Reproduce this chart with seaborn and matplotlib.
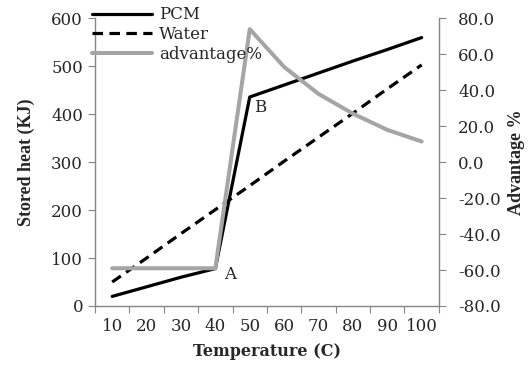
import matplotlib
matplotlib.use("Agg")
import matplotlib.pyplot as plt
import seaborn as sns
import pandas as pd

temps = [10, 20, 30, 40, 50, 60, 70, 80, 90, 100]
pcm = [20, 40, 60, 78, 436, 461, 486, 511, 535, 560]
water = [50, 100, 151, 201, 251, 302, 352, 402, 453, 503]
advantage = [-59, -59, -59, -59, 74, 53, 38, 27, 18, 11.5]

sns.set_style("white")
plt.rcParams['font.family'] = ['DejaVu Serif', 'Liberation Serif']

spine_grey = "#868686"
adv_grey = "#a5a5a5"
label_font = dict(family="Liberation Serif", fontweight="bold", fontsize=13)

df = pd.DataFrame({"pos": range(len(temps)), "PCM": pcm,
                   "Water": water, "advantage%": advantage})

fig = plt.figure(figsize=(5.29, 3.68), dpi=100)
ax = fig.add_axes([0.1796, 0.1685, 0.650, 0.7815])
ax2 = ax.twinx()

sns.lineplot(data=df, x="pos", y="PCM", ax=ax, color="black", lw=2.3, label="PCM", legend=False)
sns.lineplot(data=df, x="pos", y="Water", ax=ax, color="black", lw=2.3,
             linestyle=(0, (3.3, 2.0)), label="Water", legend=False)
sns.lineplot(data=df, x="pos", y="advantage%", ax=ax2, color=adv_grey, lw=2.9,
             label="advantage%", legend=False)

# category axis: ticks on boundaries, labels at centres
n = len(temps)
ax.set_xlim(-0.5, n - 0.5)
ax.set_xticks([i - 0.5 for i in range(n + 1)])
ax.set_xticklabels([])
ax.set_xticks(range(n), minor=True)
ax.set_xticklabels([str(t) for t in temps], minor=True, fontsize=12)
ax.tick_params(axis="x", which="major", direction="out", length=5, color=spine_grey, bottom=True)
ax.tick_params(axis="x", which="minor", length=0, pad=9)

ax.set_ylim(0, 600)
ax.set_yticks(range(0, 601, 100))
ax.tick_params(axis="y", direction="out", length=5, color=spine_grey, left=True, labelsize=12, pad=3.6)

ax2.set_ylim(-80, 80)
ax2.set_yticks(range(-80, 81, 20))
ax2.set_yticklabels([f"{v:.1f}" for v in range(-80, 81, 20)])
ax2.tick_params(axis="y", direction="out", length=5, color=spine_grey, right=True, labelsize=12, pad=9)

for s in ["top", "right"]:
    ax.spines[s].set_visible(False)
for s in ["top", "left", "bottom"]:
    ax2.spines[s].set_visible(False)
for a, names in [(ax, ["left", "bottom"]), (ax2, ["right"])]:
    for s in names:
        a.spines[s].set_color(spine_grey)
        a.spines[s].set_linewidth(1.0)

ax.set_xlabel("Temperature (C)", fontsize=11.5, fontweight="bold", labelpad=5.4)
ax.set_ylabel("Stored heat (KJ)", **label_font)
ax2.set_ylabel("Advantage %", **label_font)
ax.yaxis.set_label_coords(-0.175, 0.5)
ax2.yaxis.set_label_coords(1.2, 0.5)

ax.annotate("A", (3.42, 66), fontsize=12, ha="center", va="center")
ax.annotate("B", (4.3, 415), fontsize=12, ha="center", va="center")

h1, l1 = ax.get_legend_handles_labels()
h2, l2 = ax2.get_legend_handles_labels()
ax2.legend(h1 + h2, l1 + l2, loc="upper left", bbox_to_anchor=(0.1707, 0.987),
           bbox_transform=fig.transFigure, frameon=False, fontsize=12,
           handlelength=3.6, handletextpad=0.4, labelspacing=0.17,
           borderpad=0.1, borderaxespad=0)

fig.savefig("out.png", dpi=100)
